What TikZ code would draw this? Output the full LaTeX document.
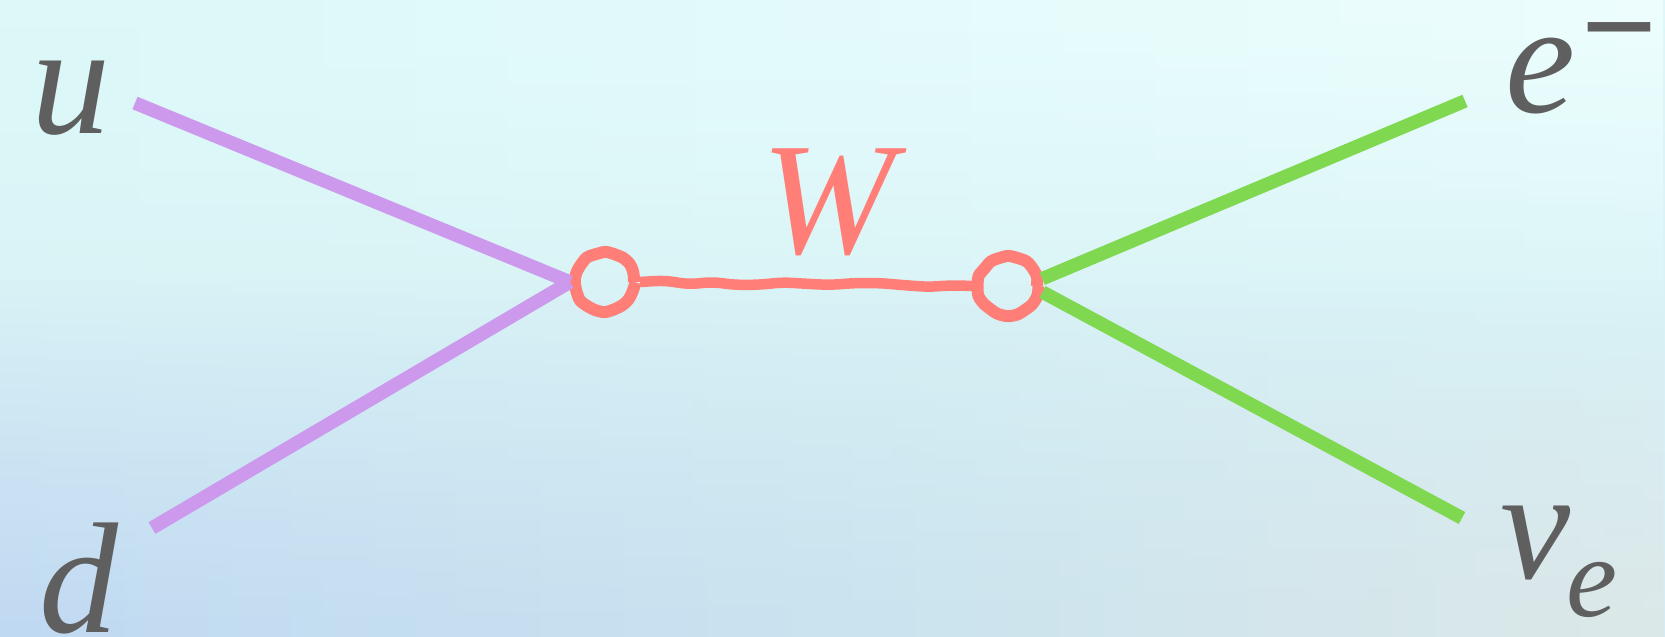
\documentclass[tikz,border=0pt]{standalone}
\usepackage{fontspec}
\setmainfont{Liberation Serif}
\usetikzlibrary{fadings,decorations.pathmorphing}
\definecolor{bgtopl}{HTML}{DCF8F8}
\definecolor{bgtopr}{HTML}{EEFEFE}
\definecolor{bgmid}{HTML}{D4ECF4}
\definecolor{bgbl}{HTML}{C0D9F2}
\definecolor{bgbm}{HTML}{C9E3EF}
\definecolor{bgbr}{HTML}{DDE8E8}
\definecolor{quarkc}{HTML}{CC99EC}
\definecolor{leptc}{HTML}{80D850}
\definecolor{bosonc}{HTML}{FF7F78}
\definecolor{labelc}{HTML}{5F5F5F}
\tikzset{
  quarkline/.style={draw=quarkc, line width=13.5pt},
  leptline/.style={draw=leptc, line width=13.5pt},
  vertexring/.style={circle, draw=bosonc, line width=12pt, minimum size=58pt, inner sep=0pt,
     decorate, decoration={random steps, segment length=9pt, amplitude=1.3pt}, rounded corners=3pt},
  wline/.style={draw=bosonc, line width=10.5pt, line join=round, decorate,
     decoration={random steps, segment length=24pt, amplitude=1.8pt}, rounded corners=9pt},
  partlabel/.style={text=labelc, inner sep=0pt, font=\fontsize{158}{160}\selectfont\itshape},
  wlabel/.style={text=bosonc, inner sep=0pt, font=\fontsize{160}{160}\selectfont\itshape}
}
\pgfmathsetseed{7}
\begin{document}
\begin{tikzpicture}[x=1pt,y=-1pt]
\useasboundingbox (0,0) rectangle (1665,637);
% background
\shade[top color=bgtopl, bottom color=bgmid] (0,0) rectangle (1665,637);
\shade[left color=bgtopl, right color=bgtopr, path fading=south] (0,0) rectangle (1665,340);
\shade[left color=bgbl, right color=bgbr, middle color=bgbm, path fading=north] (0,280) rectangle (1665,637);
% vertices
\node[vertexring] (lv) at (605,282) {};
\node[vertexring] (rv) at (1008,286) {};
% end points
\coordinate (uend) at (135,103);
\coordinate (dend) at (152,528);
\coordinate (eend) at (1465,101);
\coordinate (nend) at (1462,518);
% fermion lines
\draw[quarkline] (uend) -- (lv.west);
\draw[quarkline] (dend) -- (lv.west);
\draw[leptline] (rv.12) -- (eend);
\draw[leptline] (rv.-10) -- (nend);
% W propagator
\draw[wline] (lv.east) -- (rv.west);
% labels
\node[partlabel, anchor=base] (u) at (71,133) {u};
\node[partlabel, anchor=base] (d) at (79,632) {d};
\node[partlabel, anchor=base west] (e) at (1505,112) {e\hspace{6pt}\raisebox{22pt}{\fontsize{112}{112}\selectfont\upshape\scalebox{1.2}[1.7]{−}}};
\node[partlabel, anchor=base west] (nu) at (1500,578) {ν\hspace{-4pt}\raisebox{-38pt}{\fontsize{115}{115}\selectfont e}};
\node[wlabel, anchor=base] (W) at (828,253) {W};
\end{tikzpicture}
\end{document}
